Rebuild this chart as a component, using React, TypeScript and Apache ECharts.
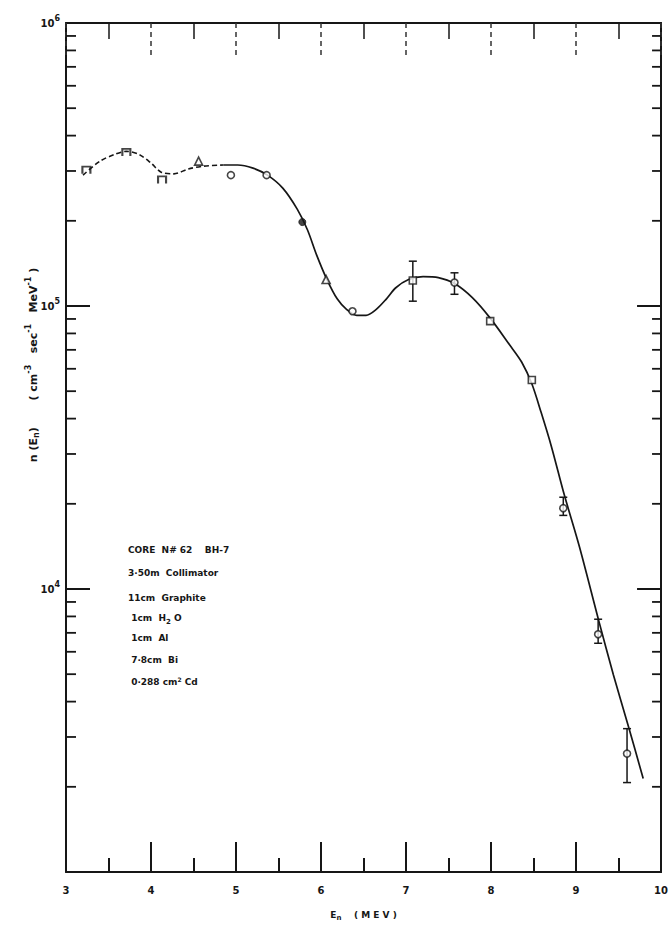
import React, { useEffect, useRef } from "react";
import * as echarts from "echarts";

// ---- data ----
const xTickValues = [3, 4, 5, 6, 7, 8, 9, 10];
const xTickLabels = ["3", "4", "5", "6", "7", "8", "9", "10"];
const yLabelValues = [10000, 100000, 1000000];
const yLabelExps = ["4", "5", "6"];
const yMinorTicks = [
  2000, 3000, 4000, 5000, 6000, 7000, 8000, 9000,
  20000, 30000, 40000, 50000, 60000, 70000, 80000, 90000,
  200000, 300000, 400000, 500000, 600000, 700000, 800000, 900000,
];

// fitted curve (dashed part then solid part)
const curveDashedE = [3.2, 3.4, 3.57, 3.71, 3.86, 4.0, 4.12, 4.27, 4.44, 4.62, 4.85];
const curveDashedV = [290000, 325000, 343000, 352000, 343000, 320000, 297000, 293000, 305000, 312000, 315000];
const curveSolidE = [4.85, 5.02, 5.2, 5.37, 5.55, 5.72, 5.84, 5.95, 6.07, 6.19, 6.3, 6.42, 6.53, 6.65, 6.77, 6.88, 7.03, 7.2, 7.38, 7.57, 7.78, 7.99, 8.22, 8.36, 8.48, 8.59, 8.71, 8.86, 9.04, 9.27, 9.44, 9.62, 9.79];
const curveSolidV = [315000, 315000, 307000, 290000, 261000, 220000, 186000, 151000, 124000, 106000, 97300, 92700, 92700, 97300, 106000, 116000, 124000, 127000, 126000, 120000, 107000, 90600, 72800, 63400, 53100, 42000, 31900, 21600, 14100, 7670, 4970, 3240, 2140];

// measured points by marker type
const piE = [3.24, 3.71, 4.13];
const piV = [302000, 349000, 279000];
const triE = [4.56, 6.06];
const triV = [325000, 124000];
const circE = [4.94, 5.36, 6.37, 7.57, 8.85, 9.26, 9.6];
const circV = [290000, 290000, 95800, 121000, 19300, 6920, 2620];
const filledE = [5.78];
const filledV = [198000];
const sqE = [7.08, 7.99, 8.48];
const sqV = [123000, 88400, 54800];

// error bars
const errE = [7.08, 7.57, 8.85, 9.26, 9.6];
const errLo = [104000, 110000, 18200, 6430, 2070];
const errHi = [144000, 131000, 21100, 7820, 3210];

// annotation lines
const noteLines = [
  "CORE  N# 62    BH-7",
  "3·50m  Collimator",
  "11cm  Graphite",
  " 1cm  H{sub|2} O",
  " 1cm  Al",
  " 7·8cm  Bi",
  " 0·288 cm{sup|2} Cd",
];
const yTitle = "{b|n (E}{s|n}{b|)       ( cm}{u|-3}{b|   sec}{u|-1}{b|   MeV}{u|-1}{b| )}";
const xTitle = "{b|E}{s|n}{b|    ( M E V )}";

const INK = "#161616";
const FONT = "DejaVu Sans";

export default function App() {
  const ref = useRef<HTMLDivElement>(null);

  useEffect(() => {
    document.body.style.margin = "0";
    document.body.style.background = "#ffffff";
    const chart = echarts.init(ref.current!, null, { renderer: "svg" });

    const pts = (e: number[], v: number[]) => e.map((x, i) => [x, v[i]]);
    const noteY = [550, 573, 598, 618, 638, 660, 682];

    const noteGraphics = noteLines.map((t, i) => ({
      type: "text",
      x: 128,
      y: noteY[i],
      style: {
        text: t,
        fill: INK,
        font: `bold 9px "${FONT}"`,
        verticalAlign: "middle",
        rich: {
          sub: { fontSize: 7, fontWeight: "bold", fontFamily: FONT, fill: INK, padding: [7, 0, 0, 0] },
          sup: { fontSize: 6, fontWeight: "bold", fontFamily: FONT, fill: INK, padding: [0, 0, 6, 0] },
        },
      },
    }));

    const option: any = {
      animation: false,
      backgroundColor: "#ffffff",
      textStyle: { fontFamily: FONT },
      grid: { left: 66, right: 3, top: 23, bottom: 49, containLabel: false },
      xAxis: [
        {
          type: "value",
          min: 3,
          max: 10,
          interval: 1,
          position: "bottom",
          axisLine: { lineStyle: { color: INK, width: 2 } },
          axisTick: { inside: true, length: 30, lineStyle: { color: INK, width: 2 } },
          minorTick: { show: true, splitNumber: 2, length: 14, lineStyle: { color: INK, width: 2 } },
          splitLine: { show: false },
          axisLabel: {
            margin: 13,
            fontSize: 10,
            fontWeight: "bold",
            color: INK,
            fontFamily: FONT,
            formatter: (v: number) => {
              const i = xTickValues.indexOf(Math.round(v));
              return i >= 0 ? xTickLabels[i] : "";
            },
          },
          name: xTitle,
          nameLocation: "middle",
          nameGap: 36,
          nameTextStyle: {
            color: INK,
            rich: {
              b: { fontSize: 9, fontWeight: "bold", fontFamily: FONT, color: INK },
              s: { fontSize: 7, fontWeight: "bold", fontFamily: FONT, color: INK, padding: [6, 0, 0, 0] },
            },
          },
        },
        {
          type: "value",
          min: 3,
          max: 10,
          interval: 1,
          position: "top",
          axisLine: { lineStyle: { color: INK, width: 2 } },
          axisTick: { inside: true, length: 36, lineStyle: { color: "#333", width: 1.5, type: [5, 4] } },
          minorTick: { show: true, splitNumber: 2, length: 16, lineStyle: { color: INK, width: 1.5 } },
          splitLine: { show: false },
          axisLabel: { show: false },
        },
      ],
      yAxis: [
        {
          type: "log",
          logBase: 10,
          min: 1000,
          max: 1000000,
          position: "left",
          axisLine: { lineStyle: { color: INK, width: 2 } },
          axisTick: { inside: true, length: 24, lineStyle: { color: INK, width: 2 } },
          splitLine: { show: false },
          axisLabel: {
            margin: 6,
            color: INK,
            formatter: (v: number) => {
              const i = yLabelValues.findIndex((t) => Math.abs(t - v) / t < 1e-6);
              return i >= 0 ? "{b|10}{s|" + yLabelExps[i] + "}" : "";
            },
            rich: {
              b: { fontSize: 10, fontWeight: "bold", fontFamily: FONT, color: INK },
              s: { fontSize: 8, fontWeight: "bold", fontFamily: FONT, color: INK, padding: [0, 0, 9, 0] },
            },
          },
        },
        {
          type: "log",
          logBase: 10,
          min: 1000,
          max: 1000000,
          position: "right",
          axisLine: { lineStyle: { color: INK, width: 2 } },
          axisTick: { inside: true, length: 24, lineStyle: { color: INK, width: 2 } },
          splitLine: { show: false },
          axisLabel: { show: false },
        },
      ],
      graphic: [
        ...noteGraphics,
        {
          type: "text",
          x: 33,
          y: 365,
          rotation: Math.PI / 2,
          style: {
            text: yTitle,
            fill: INK,
            align: "center",
            verticalAlign: "middle",
            rich: {
              b: { fontSize: 11, fontWeight: "bold", fontFamily: FONT, fill: INK },
              s: { fontSize: 8, fontWeight: "bold", fontFamily: FONT, fill: INK, padding: [7, 0, 0, 0] },
              u: { fontSize: 8, fontWeight: "bold", fontFamily: FONT, fill: INK, padding: [0, 0, 10, 0] },
            },
          },
        },
      ],
      series: [
        {
          type: "custom",
          silent: true,
          xAxisIndex: 0,
          yAxisIndex: 0,
          data: yMinorTicks.map((v) => [3, v]),
          encode: { x: 0, y: 1 },
          renderItem: (_p: any, api: any) => {
            const v = api.value(1);
            const l = api.coord([3, v]);
            const r = api.coord([10, v]);
            return {
              type: "group",
              children: [
                { type: "line", shape: { x1: l[0], y1: l[1], x2: l[0] + 10, y2: l[1] }, style: { stroke: INK, lineWidth: 1.8 } },
                { type: "line", shape: { x1: r[0] - 9, y1: r[1], x2: r[0], y2: r[1] }, style: { stroke: INK, lineWidth: 1.8 } },
              ],
            };
          },
        },
        {
          type: "line",
          data: pts(curveDashedE, curveDashedV),
          smooth: 0.3,
          symbol: "none",
          lineStyle: { color: INK, width: 1.6, type: [5, 3] },
        },
        {
          type: "line",
          data: pts(curveSolidE, curveSolidV),
          smooth: 0.3,
          symbol: "none",
          lineStyle: { color: INK, width: 1.7 },
        },
        {
          type: "custom",
          silent: true,
          data: errE.map((e, i) => [e, errLo[i], errHi[i]]),
          encode: { x: 0, y: [1, 2] },
          renderItem: (_p: any, api: any) => {
            const x = api.value(0);
            const lo = api.coord([x, api.value(1)]);
            const hi = api.coord([x, api.value(2)]);
            const s = { stroke: INK, lineWidth: 1.5 };
            return {
              type: "group",
              children: [
                { type: "line", shape: { x1: lo[0], y1: lo[1], x2: hi[0], y2: hi[1] }, style: s },
                { type: "line", shape: { x1: lo[0] - 4, y1: lo[1], x2: lo[0] + 4, y2: lo[1] }, style: s },
                { type: "line", shape: { x1: hi[0] - 4, y1: hi[1], x2: hi[0] + 4, y2: hi[1] }, style: s },
              ],
            };
          },
        },
        {
          type: "scatter",
          data: pts(piE, piV),
          symbol: "path://M0,10 L0,0 L10,0 L10,10",
          symbolSize: [8, 7],
          itemStyle: { color: "none", borderColor: INK, borderWidth: 2 },
          z: 5,
        },
        {
          type: "scatter",
          data: pts(triE, triV),
          symbol: "triangle",
          symbolSize: 8,
          itemStyle: { color: "#ffffff", borderColor: INK, borderWidth: 1.6 },
          z: 5,
        },
        {
          type: "scatter",
          data: pts(circE, circV),
          symbol: "circle",
          symbolSize: 7,
          itemStyle: { color: "#ffffff", borderColor: INK, borderWidth: 1.6 },
          z: 5,
        },
        {
          type: "scatter",
          data: pts(filledE, filledV),
          symbol: "circle",
          symbolSize: 7,
          itemStyle: { color: INK, borderColor: INK, borderWidth: 1 },
          z: 5,
        },
        {
          type: "scatter",
          data: pts(sqE, sqV),
          symbol: "rect",
          symbolSize: 7,
          itemStyle: { color: "#ffffff", borderColor: INK, borderWidth: 1.6 },
          z: 5,
        },
      ],
    };

    chart.setOption(option);
    return () => chart.dispose();
  }, []);

  return <div ref={ref} style={{ width: 671, height: 926 }} />;
}
